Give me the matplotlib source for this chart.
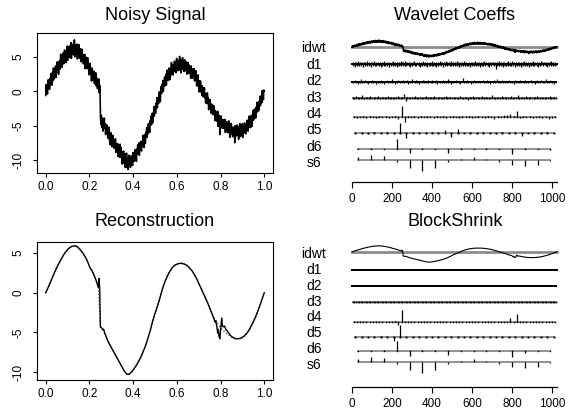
import numpy as np
import matplotlib
matplotlib.use("Agg")
import matplotlib.pyplot as plt

plt.rcParams['font.family'] = ['Liberation Sans', 'DejaVu Sans']

# noisy signal, 512 samples on [0, 1]
NOISY = [
    -0.6, 1.0, 0.0, 0.9, -0.4, 0.9, 1.7, 0.4, 1.3, 0.3, 1.9, 1.0, 2.6, 1.0, 1.9, 0.9,
    2.8, 1.6, 3.4, 2.4, 1.8, 3.2, 2.4, 3.7, 2.0, 3.3, 2.8, 4.3, 3.2, 4.2, 2.5, 4.2,
    4.4, 3.2, 4.2, 5.4, 3.7, 4.7, 3.5, 5.3, 4.3, 5.6, 4.0, 5.3, 6.0, 4.4, 5.3, 4.2,
    5.9, 4.9, 6.6, 4.5, 5.8, 6.3, 5.0, 6.6, 4.9, 6.2, 5.6, 7.1, 4.8, 6.4, 6.0, 5.4,
    6.9, 5.3, 6.3, 7.5, 5.0, 6.1, 5.6, 6.8, 5.4, 6.9, 4.7, 6.0, 6.5, 5.2, 6.8, 4.8,
    6.1, 5.1, 6.2, 4.3, 5.6, 6.1, 4.4, 5.2, 4.0, 5.3, 4.5, 5.4, 3.3, 4.7, 5.0, 3.7,
    4.5, 3.3, 4.9, 3.4, 3.9, 2.4, 4.0, 3.1, 4.1, 2.5, 3.1, 1.5, 3.4, 2.4, 3.0, 1.6,
    2.0, 2.9, 1.1, 2.3, 1.7, 2.7, 0.8, 1.7, 1.9, 0.4, 1.4, 0.5, 1.8, -0.2, 0.9, 0.2,
    -3.8, -4.8, -3.5, -5.3, -4.4, -3.9, -5.8, -4.4, -5.4, -3.9, -5.3, -4.8, -6.3, -4.8, -5.9, -4.9,
    -5.5, -6.8, -5.3, -6.6, -5.2, -7.1, -6.3, -7.8, -6.0, -7.1, -6.5, -8.1, -6.9, -6.4, -8.0, -7.4,
    -8.3, -7.1, -8.1, -6.9, -8.9, -7.7, -8.4, -7.6, -8.2, -9.5, -7.7, -9.0, -8.1, -9.6, -7.7, -9.3,
    -8.2, -9.7, -9.2, -10.6, -8.8, -9.9, -8.7, -10.5, -10.3, -9.1, -11.1, -9.7, -10.7, -9.0, -11.1, -9.7,
    -11.4, -9.8, -10.4, -9.3, -10.9, -9.6, -11.1, -9.9, -9.4, -10.8, -9.7, -10.8, -8.9, -10.0, -9.1, -10.2,
    -9.7, -8.5, -10.0, -8.8, -10.2, -8.4, -9.2, -7.8, -8.3, -9.2, -7.5, -9.3, -8.1, -8.6, -7.3, -8.2,
    -8.7, -7.4, -8.0, -6.4, -8.0, -7.1, -8.2, -6.3, -6.6, -7.6, -6.0, -6.6, -5.3, -6.7, -5.8, -6.2,
    -4.7, -5.7, -5.0, -6.0, -4.3, -4.8, -3.6, -4.9, -4.6, -3.2, -4.6, -3.2, -3.6, -2.2, -3.6, -2.4,
    -2.4, -3.2, -1.7, -2.4, -0.9, -2.4, -1.2, -1.5, -1.8, -0.1, -1.0, -0.1, -1.5, 0.0, 0.7, -0.3,
    1.0, 0.0, 1.6, 0.0, 1.1, 0.8, 2.1, 0.8, 1.2, 2.5, 0.9, 2.2, 3.1, 1.6, 2.4, 1.6,
    3.4, 2.3, 3.1, 1.7, 3.4, 2.7, 4.2, 2.4, 3.0, 3.9, 2.4, 3.7, 2.9, 4.4, 3.2, 4.1,
    3.9, 2.7, 4.8, 3.4, 4.2, 3.0, 4.5, 3.3, 3.1, 5.1, 3.6, 4.2, 2.7, 4.6, 3.9, 3.2,
    4.9, 3.3, 4.3, 2.9, 4.0, 4.6, 3.0, 4.0, 3.3, 4.3, 2.5, 3.9, 3.2, 4.2, 2.6, 3.4,
    3.8, 2.6, 3.3, 1.9, 3.7, 2.6, 3.2, 1.9, 2.3, 3.3, 2.4, 3.3, 1.5, 2.5, 1.6, 3.0,
    2.1, 0.8, 2.2, 1.2, 2.4, 0.7, 1.6, -0.1, 1.5, 0.5, 1.5, -0.1, 0.6, -0.6, 0.8, -0.1,
    -0.8, 0.5, -0.4, 0.5, -1.0, -0.3, -1.7, -0.4, -0.7, -1.8, -0.2, -1.7, -0.9, -2.7, -1.5, -2.4,
    -1.2, -2.3, -1.8, -3.2, -2.4, -1.9, -3.3, -2.5, -3.4, -2.1, -3.4, -2.7, -4.3, -3.2, -4.2, -3.0,
    -3.3, -4.4, -2.9, -5.1, -3.7, -4.5, -3.5, -6.3, -3.9, -4.7, -3.6, -5.2, -4.4, -5.4, -4.1, -4.8,
    -5.4, -4.2, -4.9, -4.1, -6.0, -4.6, -5.6, -4.4, -4.9, -6.0, -4.7, -5.7, -4.3, -6.1, -5.2, -6.7,
    -4.8, -5.8, -4.7, -6.2, -5.4, -6.6, -5.2, -5.9, -6.6, -5.3, -7.5, -5.0, -6.1, -5.2, -6.5, -5.5,
    -4.9, -6.3, -5.6, -7.0, -5.1, -6.2, -4.7, -6.6, -5.6, -6.5, -4.9, -6.0, -4.7, -6.7, -5.2, -6.1,
    -6.0, -4.6, -6.0, -5.1, -6.2, -4.7, -5.3, -4.2, -4.5, -5.8, -4.6, -5.3, -3.6, -4.8, -3.8, -5.3,
    -4.6, -3.5, -5.1, -3.5, -4.1, -2.8, -4.2, -3.3, -2.6, -3.7, -2.8, -3.9, -2.3, -2.9, -1.6, -3.0,
    -2.8, -1.6, -2.8, -1.5, -1.8, -0.7, -2.1, -1.0, -0.7, -1.7, 0.1, -1.0, 0.1, -1.2, 0.2, 0.1,
]

# true signal (dotted), on a 0.01 grid
TRUE = [
    0.0, 0.6, 1.2, 1.9, 2.5, 3.1, 3.7, 4.2, 4.7, 5.1, 5.4, 5.7, 5.85, 5.95, 5.9, 5.7,
    5.4, 5.0, 4.5, 4.0, 3.4, 2.8, 2.2, 1.6, 1.0, -4.3, -4.7, -5.1, -5.7, -6.3, -6.9, -7.4,
    -7.9, -8.4, -8.9, -9.4, -9.9, -10.2, -10.3, -10.1, -9.8, -9.4, -8.9, -8.4, -7.8, -7.2, -6.4, -5.5,
    -4.6, -3.6, -2.7, -1.8, -0.9, 0.1, 1.0, 1.7, 2.3, 2.8, 3.2, 3.5, 3.6, 3.7, 3.75, 3.7,
    3.6, 3.4, 3.1, 2.8, 2.3, 1.8, 1.2, 0.6, 0.0, -0.6, -1.2, -1.9, -2.5, -3.1, -3.6, -4.0,
    -4.4, -4.7, -5.0, -5.2, -5.4, -5.6, -5.7, -5.8, -5.8, -5.8, -5.7, -5.5, -5.2, -4.8, -4.3, -3.7,
    -3.1, -2.4, -1.6, -0.8, 0.0,
]

# BlockShrink reconstruction (solid)
RECON_T = [
    0.0, 0.01, 0.02, 0.03, 0.04, 0.05, 0.06, 0.07, 0.08, 0.09, 0.10, 0.11, 0.12, 0.13, 0.14, 0.15,
    0.16, 0.17, 0.18, 0.19, 0.20, 0.205, 0.21, 0.215, 0.22, 0.23, 0.238, 0.241, 0.244, 0.247, 0.250, 0.255,
    0.26, 0.265, 0.27, 0.28, 0.29, 0.30, 0.31, 0.32, 0.33, 0.34, 0.35, 0.36, 0.37, 0.38, 0.39, 0.40,
    0.41, 0.42, 0.43, 0.44, 0.45, 0.46, 0.47, 0.48, 0.49, 0.50, 0.51, 0.52, 0.53, 0.54, 0.55, 0.56,
    0.57, 0.58, 0.59, 0.60, 0.61, 0.62, 0.63, 0.64, 0.65, 0.66, 0.67, 0.68, 0.69, 0.70, 0.71, 0.72,
    0.73, 0.74, 0.75, 0.76, 0.77, 0.775, 0.778, 0.782, 0.787, 0.79, 0.793, 0.797, 0.801, 0.805, 0.808, 0.812,
    0.818, 0.824, 0.83, 0.84, 0.85, 0.86, 0.87, 0.88, 0.89, 0.90, 0.91, 0.92, 0.93, 0.94, 0.95, 0.96,
    0.97, 0.98, 0.99, 1.0,
]
RECON_Y = [
    0.0, 0.6, 1.25, 1.9, 2.55, 3.15, 3.7, 4.2, 4.7, 5.1, 5.45, 5.7, 5.85, 5.9, 5.9, 5.65,
    5.35, 5.0, 4.55, 4.05, 3.3, 3.0, 2.9, 2.6, 2.3, 1.6, 0.9, 0.7, 1.8, 0.4, -4.3, -4.4,
    -4.6, -4.6, -5.1, -5.8, -6.4, -6.9, -7.4, -7.9, -8.4, -8.9, -9.4, -9.9, -10.25, -10.3, -10.05, -9.75,
    -9.35, -8.9, -8.4, -7.8, -7.15, -6.4, -5.5, -4.6, -3.5, -2.6, -1.8, -0.9, 0.1, 1.0, 1.7, 2.3,
    2.8, 3.2, 3.45, 3.6, 3.7, 3.7, 3.65, 3.55, 3.35, 3.05, 2.75, 2.3, 1.8, 1.2, 0.6, 0.0,
    -0.6, -1.2, -1.9, -2.6, -3.3, -3.7, -3.5, -4.1, -5.1, -4.6, -5.5, -5.8, -4.5, -3.2, -4.1, -4.3,
    -4.2, -4.6, -4.8, -5.2, -5.5, -5.7, -5.8, -5.8, -5.75, -5.6, -5.4, -5.1, -4.7, -4.2, -3.65, -3.05,
    -2.35, -1.6, -0.8, 0.0,
]

# wavelet coefficients (display heights), finest to coarsest
D1 = [
    1, -2, 0, 2, -1, 1, -3, 2, 0, -1, 2, -2, 1, 0, -1, 3, -2, 1, -1, 0, 2, -1, 1, -2, 0, 2, -3, 1, -1, 2, 0, -2,
    2, -1, 0, 1, -2, 3, -1, 0, 1, -2, 2, 0, -1, 1, -3, 2, -1, 0, 2, -2, 1, -1, 3, 0, -2, 1, -1, 2, -2, 0, 1, -1,
    -1, 2, -2, 0, 1, -1, 2, -3, 1, 0, -2, 2, -1, 1, 0, -2, 3, -1, 1, -2, 0, 1, -1, 2, -2, 1, 0, -3, 2, -1, 1, 0,
    0, -2, 1, 2, -1, 0, -2, 3, -1, 1, -2, 0, 2, -1, 1, -3, 0, 2, -1, 1, -2, 2, 0, -1, 1, -2, 3, -1, 0, 2, -2, 1,
    2, -1, 1, -2, 0, 3, -2, 1, -1, 0, 2, -1, 1, -2, 2, 0, -3, 1, 0, -1, 2, -2, 1, -1, 0, 2, -1, 3, -2, 1, 0, -1,
    -2, 1, 0, 2, -1, 1, -2, 0, 2, -3, 1, -1, 0, 2, -2, 1, -1, 3, 0, -2, 1, -1, 2, 0, -2, 1, -3, 2, -1, 0, 1, -2,
    1, 0, -2, 2, -1, 1, -1, 3, -2, 0, 1, -2, 2, -1, 0, 1, -2, 2, -3, 1, 0, -1, 2, -2, 1, -1, 0, 3, -1, 2, -2, 0,
    0, 2, -1, 1, -3, 2, 0, -1, 1, -2, 3, -1, 0, 2, -2, 1, -1, 0, 2, -1, 1, -2, 0, 3, -2, 1, -1, 2, 0, -2, 1, -1,
    2, -2, 1, 0, -1, 3, -2, 1, -1, 2, 0, -3, 1, -1, 2, 0, -2, 1, -1, 2, -2, 0, 1, -1, 3, -2, 0, 1, -1, 2, -2, 1,
    -1, 1, -2, 2, 0, -1, 1, -3, 2, -1, 0, 2, -2, 1, 0, -1, 2, -2, 3, -1, 0, 1, -2, 2, -1, 1, 0, -2, 2, -1, 1, -3,
    1, -1, 2, 0, -2, 1, -1, 2, -2, 3, 0, -1, 1, -2, 0, 2, -1, 1, 0, -2, 2, -1, 1, -3, 2, 0, -1, 1, -2, 2, 0, -1,
    0, 2, -2, 1, -1, 0, 2, -1, -5, 1, -2, 2, 0, -1, 1, -2, 3, -1, 0, 2, -2, 1, -1, 0, 2, -3, 1, -1, 2, 0, -2, 1,
    -2, 1, 0, -1, 2, -2, 3, -1, 1, 0, -2, 2, -1, 1, -2, 0, 3, -2, 1, -1, 2, 0, -1, 1, -3, 2, -1, 0, 1, -2, 2, -1,
    1, -2, 2, 0, -1, 1, -3, 2, -1, 0, 2, -2, 1, -1, 3, 0, -2, 1, -1, 2, -2, 0, 1, -1, 2, -3, 1, 0, -1, 2, -2, 1,
    0, -1, 2, -2, 1, 3, -2, 0, 1, -1, 2, -1, 0, -2, 1, 2, -3, 1, -1, 0, 2, -2, 1, -1, 3, -1, 0, 2, -2, 1, -1, 0,
    2, -1, 0, 1, -2, 2, -1, 1, -3, 0, 2, -1, 1, -2, 0, 2, -1, 3, -2, 1, -1, 0, 2, -2, 1, -1, 0, 2, -2, 1, -1, 0,
]
D2 = [
    1, -1, 0, 2, -1, 0, 1, -2, 0, 1, -1, 3, -1, 0, 1, -1, 2, 0, -1, 1, -2, 0, 1, -1, 0, 2, -1, 1, 0, -2, 1, 0,
    -1, 1, 0, -1, 2, -1, 0, 1, -2, 1, 0, 2, -1, 0, 1, -1, 0, 3, -1, 1, 0, -2, 1, 0, -1, 2, 0, -1, 1, 0, -1, 2,
    0, -1, 1, 0, 2, -2, 1, 0, -1, 1, 3, -1, 0, 1, -1, 0, 2, -1, 1, -2, 0, 1, 0, -1, 2, 0, -1, 1, -1, 0, 2, -1,
    1, 0, -1, 2, -1, 0, 1, -1, 0, 2, -2, 1, 0, -1, 1, 0, -1, 2, 0, -1, 1, -1, 0, 3, -1, 0, 1, -2, 1, 0, -1, 1,
    0, 2, -1, 1, 0, -1, 1, -2, 0, 1, 4, -1, 0, 1, -1, 2, 0, -1, 1, 0, -2, 1, 0, -1, 2, -1, 0, 1, 0, -1, 1, 0,
    -1, 1, 0, 2, -1, 0, 1, -1, 2, 0, -1, 1, -2, 0, 1, 0, -1, 2, -1, 0, 1, 3, -1, 0, 1, -1, 0, 2, -1, 1, 0, -1,
    1, -1, 0, 1, 2, -1, 0, -1, 1, 0, -2, 2, 0, -1, 1, 0, -1, 1, 2, -1, 0, 1, -1, 0, 2, -1, 1, 0, -1, 1, 0, 2,
    0, -1, 1, 0, -2, 1, 0, 2, -1, 1, 0, -1, 2, 0, -1, 1, -1, 0, 3, -1, 0, 1, -1, 2, 0, -1, 1, 0, -2, 1, 0, 1,
]
D3 = [
    1, -1, 2, 0, -1, 1, 3, -1, 0, 1, -1, 2, 0, -1, 1, 0, 2, -1, 0, 1, -1, 0, 2, -1, 1, 0, -1, 1, 2, 0, -1, 1,
    4, -3, 1, 0, -1, 1, 0, 2, -1, 0, 1, -1, 0, 1, 2, -1, 0, 1, -1, 2, 0, -1, 1, 0, -1, 1, 2, -1, 0, 1, 0, -1,
    1, 0, -1, 2, 0, -1, 1, 0, -2, 1, 0, 2, -1, 0, 1, -1, 0, 2, -1, 1, 0, -1, 1, 3, 0, -1, 1, 0, -1, 2, 0, 1,
    -1, 1, 0, 2, -1, 0, 1, 3, -1, 0, 1, -1, 2, 0, -1, 1, 0, -1, 1, 2, 0, -1, 1, 0, -1, 1, 0, 2, -1, 0, 1, 0,
]
D4 = [
    1, -1, 0, 1, -1, 1, 0, -1, 1, 0, 1, -1, 0, 1, -2, 11,
    -5, 1, 0, 1, -1, 1, 0, 1, 0, -1, 1, 0, 1, -1, 0, 1,
    0, -1, 1, 0, 1, -1, 0, 1, 0, -1, 1, 0, -2, 1, 0, 2,
    2, 3, 1, 6, -1, 1, 0, 1, -1, 0, 1, -1, 0, -2, -1, 1,
]
D5 = [0, 1, -1, 1, 0, 1, -1, 10, -5, 1, 0, 1, 1, 0, 3, -4,
      4, 0, 1, -1, 1, 0, -1, 1, 0, 1, -3, 0, 1, -1, 1, 0]
D6 = [0, 1, 0, 10, -4, 1, 0, -4, 1, 0, 1, 0, -5, 1, 0, -1]
S6 = [3, 5, 4, -1.5, -8, -11, -8, -2, 1, 3, 1, -2, -5, -6, -5, -0.5]

# after BlockShrink: d1-d3 killed, a few big ones survive
BS_D1 = [0] * 512
BS_D2 = [0] * 256
BS_D3 = [0] * 128
BS_D4 = [0] * 13 + [1, -3, 12] + [0] * 33 + [4, 0, 8] + [0] * 12
BS_D5 = [0, 0, 0, 0, 1, 0, -4, 12] + [0] * 24
BS_D6 = [0, 0.5, 1, 10, -5, 1, 1, -4, 0, 0, 0, 0, -6, -2, 0, 0]

ROW_NAMES = ["idwt", "d1", "d2", "d3", "d4", "d5", "d6", "s6"]
X_TICKS = [0.0, 0.2, 0.4, 0.6, 0.8, 1.0]
Y_TICKS = [-10, -5, 0, 5]

W, H = 571, 409
fig = plt.figure(figsize=(W / 100, H / 100), dpi=100)


def box(left, top, width, height):
    return [left / W, 1 - (top + height) / H, width / W, height / H]


def left_panel(rect, ylim, title, title_y):
    ax = fig.add_axes(rect)
    ax.set_xlim(-0.04, 1.04)
    ax.set_ylim(ylim)
    ax.set_xticks(X_TICKS)
    ax.set_xticklabels(["%.1f" % v for v in X_TICKS])
    ax.set_yticks(Y_TICKS)
    ax.set_yticklabels([str(v) for v in Y_TICKS], rotation=90, va="center")
    ax.tick_params(axis="x", length=3, width=0.8, pad=2.5, labelsize=8.5)
    ax.tick_params(axis="y", length=3, width=0.8, pad=6, labelsize=8.5)
    for s in ax.spines.values():
        s.set_linewidth(0.8)
    fig.text(155 / W, 1 - title_y / H, title, ha="center", va="center", fontsize=13)
    return ax


def coef_row(ax, center, vals, gain=1.0, ms=0.0):
    v = np.asarray(vals, dtype=float)
    n = len(v)
    x = (np.arange(n) + 0.5) * (1024 / n)
    base = center + (v.max() + v.min()) / 2 * gain
    ax.plot([x[0], x[-1]], [base, base], color="#7f7f7f", lw=1.2, zorder=1)
    nz = v != 0
    ax.vlines(x[nz], base, base - v[nz] * gain, color="black", lw=0.9, zorder=2)
    if ms:
        ax.plot(x, np.full(n, base), "s", ms=ms, mew=0, color="black", zorder=3)


def right_panel(top, axis_y, row0, step, signal_x, signal_y, gain, sig_lw, rows, sizes, title, title_y):
    ax = fig.add_axes(box(290, top, 281, axis_y - top))
    ax.set_xlim((290 - 352) / 0.2, (571 - 352) / 0.2)
    ax.set_ylim(axis_y, top)
    for k in ["top", "right", "left"]:
        ax.spines[k].set_visible(False)
    ax.spines["bottom"].set_bounds(0, 1024)
    ax.spines["bottom"].set_linewidth(0.9)
    ax.set_yticks([])
    ax.set_xticks(range(0, 1001, 200))
    ax.tick_params(axis="x", length=4, width=0.8, pad=4, labelsize=8.5)

    sy = np.asarray(signal_y, dtype=float)
    base = row0 + (sy.max() + sy.min()) / 2 * gain
    ax.plot([0, 1024], [base, base], color="#8c8c8c", lw=2, zorder=1)
    ax.plot(np.asarray(signal_x) * 1024, base - sy * gain, color="black", lw=sig_lw, zorder=2)

    for i, (vals, ms) in enumerate(zip(rows, sizes)):
        coef_row(ax, row0 + step * (i + 1), vals, ms=ms)
    for i, name in enumerate(ROW_NAMES):
        ax.text(-190, row0 + step * i, name, ha="center", va="center", fontsize=10)
    fig.text(455 / W, 1 - title_y / H, title, ha="center", va="center", fontsize=13)
    return ax


ax1 = left_panel(box(37, 33, 236, 140), (-11.9, 8.5), "Noisy Signal", 15)
ax1.plot(np.linspace(0, 1, len(NOISY)), NOISY, color="black", lw=1.15)

ax2 = left_panel(box(37, 242, 236, 138), (-11.0, 6.4), "Reconstruction", 222)
ax2.plot(np.linspace(0, 1, len(TRUE)), TRUE, color="#555555", lw=0.9, ls=":")
ax2.plot(RECON_T, RECON_Y, color="black", lw=1.0)

sizes = [2.0, 1.5, 1.2, 1.1, 1.4, 1.0, 0]
right_panel(30, 182, 48.5, 16.36, np.linspace(0, 1, len(NOISY)), NOISY, 0.9, 1.1,
            [D1, D2, D3, D4, D5, D6, S6], sizes, "Wavelet Coeffs", 15)
right_panel(235, 387, 254, 15.86, RECON_T, RECON_Y, 1.0, 0.8,
            [BS_D1, BS_D2, BS_D3, BS_D4, BS_D5, BS_D6, S6], sizes, "BlockShrink", 222)

fig.savefig("out.png", dpi=100)
